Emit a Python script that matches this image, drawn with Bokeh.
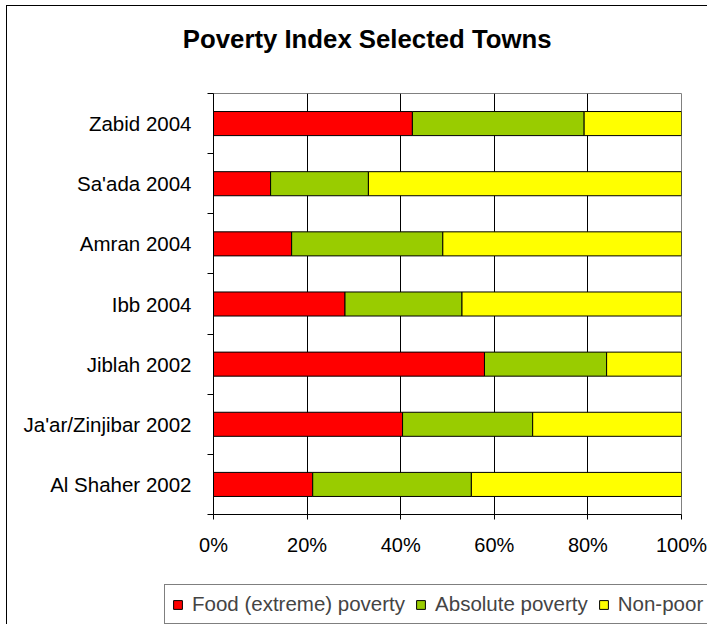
from bokeh.plotting import figure
from bokeh.layouts import column
from bokeh.models import (Range1d, FixedTicker, Legend, LegendItem, Label,
                          ColumnDataSource, PrintfTickFormatter)
from bokeh.embed import file_html
from bokeh.resources import INLINE

# ---- data (bottom to top) ----
towns = ["Al Shaher 2002", "Ja'ar/Zinjibar 2002", "Jiblah 2002", "Ibb 2004",
         "Amran 2004", "Sa'ada 2004", "Zabid 2004"]
food = [21.2, 40.4, 57.9, 28.1, 16.7, 12.2, 42.5]
absolute = [33.9, 27.8, 26.1, 25.0, 32.3, 20.9, 36.7]
nonpoor = [44.9, 31.8, 16.0, 46.9, 51.0, 66.9, 20.8]
series_names = ["Food (extreme) poverty", "Absolute poverty", "Non-poor"]
series_keys = ["food", "absolute", "nonpoor"]
series_colors = ["#FF0000", "#99CC00", "#FFFF00"]
x_ticks = [0, 20, 40, 60, 80, 100]
title_text = "Poverty Index Selected Towns"

FONT = "Liberation Sans"
W = 700
TH = 60            # title strip height
FRAME_TOP = 87     # frame top, measured from inner content top
FRAME_H = 421
BOTTOM = 70

pos = [i + 0.5 for i in range(len(towns))]
source = ColumnDataSource(dict(y=pos, food=food, absolute=absolute, nonpoor=nonpoor))

# ---- title strip ----
pt = figure(width=W, height=TH, output_backend="svg", toolbar_location=None,
            x_range=Range1d(0, W), y_range=Range1d(TH, 0),
            x_axis_type=None, y_axis_type=None,
            min_border_left=0, min_border_right=0, min_border_top=0,
            min_border_bottom=0, background_fill_color="white",
            border_fill_color="white", outline_line_color=None)
pt.grid.visible = False
pt.frame_align = False
pt.add_layout(Label(x=359.7, y=32, text=title_text, text_font=FONT,
                    text_font_style="bold", text_font_size="25.75px",
                    text_align="center", text_baseline="middle",
                    text_color="black"))

# ---- main chart ----
p = figure(width=W, height=FRAME_TOP - TH + FRAME_H + BOTTOM, output_backend="svg",
           toolbar_location=None,
           x_range=Range1d(0, 100), y_range=Range1d(0, len(towns)),
           min_border_left=206, min_border_right=W - 206 - 468,
           min_border_top=FRAME_TOP - TH, min_border_bottom=BOTTOM,
           background_fill_color="white", border_fill_color="white")
p.frame_align = False

renderers = p.hbar_stack(series_keys, y="y", height=0.4, source=source,
                         fill_color=series_colors, line_color="black", line_width=1)

p.xaxis.ticker = FixedTicker(ticks=x_ticks)
p.xaxis.formatter = PrintfTickFormatter(format="%d%%")
p.xaxis.major_label_text_font = FONT
p.xaxis.major_label_text_font_size = "20px"
p.xaxis.major_label_text_color = "black"
p.xaxis.major_tick_out = 5
p.xaxis.major_tick_in = 0
p.xaxis.minor_tick_out = 0
p.xaxis.minor_tick_in = 0
p.xaxis.major_label_standoff = 14
p.xaxis.axis_line_color = "black"
p.xaxis.major_tick_line_color = "black"

p.yaxis.ticker = FixedTicker(ticks=pos, minor_ticks=list(range(len(towns) + 1)))
p.yaxis.major_label_overrides = {v: t for v, t in zip(pos, towns)}
p.yaxis.major_label_text_font = FONT
p.yaxis.major_label_text_font_size = "20.5px"
p.yaxis.major_label_text_color = "black"
p.yaxis.major_tick_out = 0
p.yaxis.major_tick_in = 0
p.yaxis.minor_tick_out = 6
p.yaxis.minor_tick_in = 0
p.yaxis.minor_tick_line_color = "black"
p.yaxis.major_label_standoff = 16
p.yaxis.axis_line_color = "black"

p.xgrid.grid_line_color = "black"
p.ygrid.grid_line_color = None
p.outline_line_color = "#808080"

# ---- legend strip (frame is the whole canvas) ----
pl = figure(width=W, height=40, output_backend="svg", toolbar_location=None,
            x_range=Range1d(1000, 1001), y_range=Range1d(1000, 1001),
            x_axis_type=None, y_axis_type=None,
            min_border_left=0, min_border_right=0, min_border_top=0,
            min_border_bottom=0, background_fill_color="white",
            border_fill_color="white", outline_line_color=None)
pl.grid.visible = False
pl.frame_align = False
leg_renderers = pl.hbar_stack(series_keys, y="y", height=0.4, source=source,
                              fill_color=series_colors, line_color="black",
                              line_width=1)
legend = Legend(items=[LegendItem(label=n, renderers=[r])
                       for n, r in zip(series_names, leg_renderers)],
                location=(157, 0), orientation="horizontal",
                label_text_font=FONT, label_text_font_size="20.5px",
                glyph_width=11, glyph_height=11, label_standoff=9, spacing=10,
                padding=7, margin=0, border_line_color="black",
                border_line_width=1, background_fill_color="white",
                background_fill_alpha=1)
pl.add_layout(legend, "center")

inner = column(pt, p, pl, spacing=0, margin=(5, 0, 0, 6),
               styles={"border-left": "1px solid black",
                       "border-top": "1px solid black"})
layout = column(inner, spacing=0)

open("out.html", "w").write(file_html(layout, INLINE))
